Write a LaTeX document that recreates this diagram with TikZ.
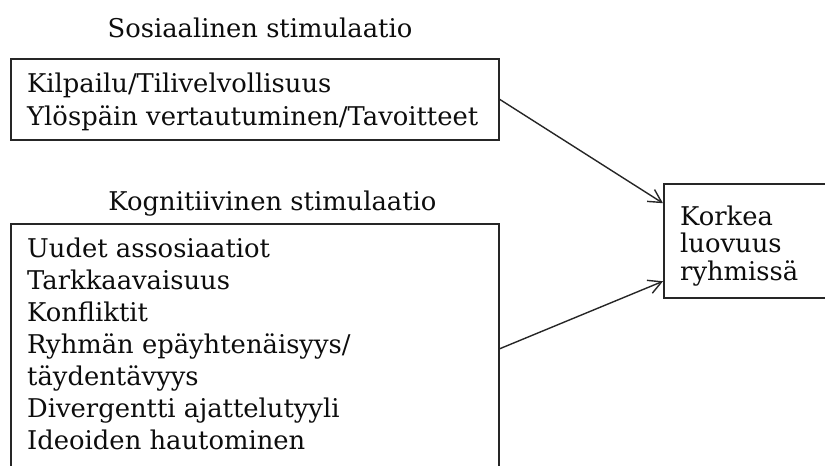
\documentclass[tikz,border=0pt]{standalone}
\usepackage{fontspec}
\setmainfont{DejaVu Serif}
\usetikzlibrary{arrows.meta,calc}
\begin{document}
\begin{tikzpicture}[x=1pt,y=-1pt,
  box/.style={draw=black!85, line width=1.6pt, inner sep=0pt},
  lbl/.style={font=\fontsize{25.8}{32}\selectfont, inner sep=0pt, text=black!95},
  link/.style={draw=black!85, line width=1.4pt, -{Straight Barb[length=13pt,width=14pt]}}]
\useasboundingbox (0,0) rectangle (825,466);

% boxes
\node[box, anchor=north west, minimum width=488pt, minimum height=81pt] (soc) at (10,58) {};
\node[box, anchor=north west, minimum width=488pt, minimum height=250pt] (cog) at (10,223) {};
\node[box, anchor=north west, minimum width=180pt, minimum height=114pt] (res) at (663,183) {};

% headings
\node[lbl, anchor=base] (socT) at (260,37) {Sosiaalinen stimulaatio};
\node[lbl, anchor=base] (cogT) at (272.5,210) {Kognitiivinen stimulaatio};

% box contents
\node[lbl, anchor=base west] (socL) at (27,92) {\parbox[t]{470pt}{\fontsize{25.8}{33}\selectfont
  Kilpailu/Tilivelvollisuus\\
  Ylöspäin vertautuminen/Tavoitteet}};
\node[lbl, anchor=base west] (cogL) at (27,257) {\parbox[t]{470pt}{\fontsize{25.8}{32}\selectfont
  Uudet assosiaatiot\\
  Tarkkaavaisuus\\
  Konfliktit\\
  Ryhmän epäyhtenäisyys/\\
  täydentävyys\\
  Divergentti ajattelutyyli\\
  Ideoiden hautominen}};
\node[lbl, anchor=base west] (resL) at (680,225) {\parbox[t]{140pt}{\fontsize{25.8}{27.5}\selectfont
  Korkea\\
  luovuus\\
  ryhmissä}};

% connectors
\draw[link] (soc.east) -- ($(res.north west)!0.175!(res.south west)$);
\draw[link] (cog.east) -- ($(res.north west)!0.85!(res.south west)$);
\end{tikzpicture}
\end{document}
